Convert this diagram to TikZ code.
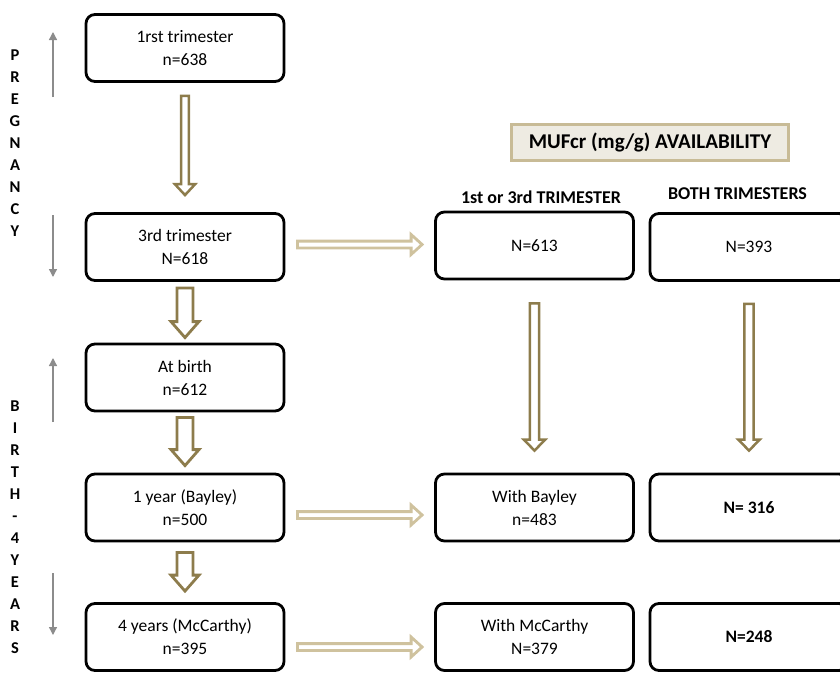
\documentclass[tikz,border=0pt]{standalone}
\usepackage{fontspec}
\setmainfont{Carlito}
\usepackage{tikz}
\usetikzlibrary{calc,arrows.meta}

\definecolor{arrowdark}{RGB}{141,124,76}
\definecolor{arrowlight}{RGB}{207,194,158}
\definecolor{availfill}{RGB}{238,235,226}
\definecolor{availdraw}{RGB}{200,187,150}
\definecolor{spangray}{RGB}{140,140,140}

\tikzset{
  box/.style={draw, line width=2.8pt, rounded corners=9pt, minimum width=198pt,
    minimum height=67pt, align=center, font=\fontsize{17.5}{23}\selectfont},
  availbox/.style={draw=availdraw, fill=availfill, line width=3pt, minimum width=277pt,
    minimum height=36pt, font=\bfseries\fontsize{21}{24}\selectfont},
  colhead/.style={font=\bfseries\fontsize{18}{20}\selectfont},
  phase/.style={align=center, font=\bfseries\fontsize{16.5}{22}\selectfont},
  span/.style={draw=spangray, line width=1.3pt, -{Triangle[length=8pt,width=8pt]}},
  % sizes of the hollow arrows
  thinarrow/.code={\def\arrshaft{3.8pt}\def\arrhead{10.2pt}\def\arrlen{11pt}\def\arrcol{arrowdark}\def\arrlw{2.5pt}},
  trunkarrow/.code={\def\arrshaft{8pt}\def\arrhead{14pt}\def\arrlen{16pt}\def\arrcol{arrowdark}\def\arrlw{2.8pt}},
  brancharrow/.code={\def\arrshaft{4.7pt}\def\arrhead{10.7pt}\def\arrlen{11pt}\def\arrcol{arrowdark}\def\arrlw{2.5pt}},
  sidearrow/.code={\def\arrshaft{3.4pt}\def\arrhead{10pt}\def\arrlen{11pt}\def\arrcol{arrowlight}\def\arrlw{2.8pt}}
}

% style, from, to, gap at start, gap at end
\newcommand{\hollowarrow}[5]{%
  \begin{scope}[#1]
    \coordinate (ha-s) at ($(#2)!#4!(#3)$);
    \coordinate (ha-e) at ($(#3)!#5!(#2)$);
    \coordinate (ha-b) at ($(ha-e)!\arrlen!(ha-s)$);
    \filldraw[draw=\arrcol, fill=white, line width=\arrlw]
      ($(ha-s)!\arrshaft!90:(ha-e)$) -- ($(ha-b)!\arrshaft!90:(ha-e)$)
      -- ($(ha-b)!\arrhead!90:(ha-e)$) -- (ha-e)
      -- ($(ha-b)!\arrhead!-90:(ha-e)$) -- ($(ha-b)!\arrshaft!-90:(ha-e)$)
      -- ($(ha-s)!\arrshaft!-90:(ha-e)$) -- cycle;
  \end{scope}}

\begin{document}
\begin{tikzpicture}[x=1pt,y=-1pt]
  \useasboundingbox (0,0) rectangle (840,672);

  % time line on the left
  \node[phase] (pregnancy) at (15,143.5) {P\\R\\E\\G\\N\\A\\N\\C\\Y};
  \node[phase] (childhood) at (15,527) {B\\I\\R\\T\\H\\-\\4\\Y\\E\\A\\R\\S};
  \coordinate (pregup) at (53,97);   \coordinate (pregtop) at (53,32);
  \coordinate (pregdown) at (53,215); \coordinate (pregend) at (53,277);
  \coordinate (childup) at (53,422);  \coordinate (childtop) at (53,358);
  \coordinate (childdown) at (53,573); \coordinate (childend) at (53,635);
  \draw[span] (pregup) -- (pregtop);
  \draw[span] (pregdown) -- (pregend);
  \draw[span] (childup) -- (childtop);
  \draw[span] (childdown) -- (childend);

  % cohort
  \node[box] (tri1) at (185,48) {1rst trimester\\n=638};
  \node[box] (tri3) at (185,247) {3rd trimester\\N=618};
  \node[box] (birth) at (185,377.5) {At birth\\n=612};
  \node[box] (bayley) at (185,507.5) {1 year (Bayley)\\n=500};
  \node[box] (mccarthy) at (185,637) {4 years (McCarthy)\\n=395};

  % availability
  \node[availbox] (avail) at (650,142) {MUFcr (mg/g) AVAILABILITY};
  \node[colhead] (anyhead) at (541,197) {1st or 3rd TRIMESTER};
  \node[colhead] (bothhead) at (737.5,194) {BOTH TRIMESTERS};
  \node[box] (anytri) at (534.5,245.5) {N=613};
  \node[box] (bothtri) at (749,247) {N=393};
  \node[box] (anybay) at (534.5,507.5) {With Bayley\\n=483};
  \node[box] (bothbay) at (749,507.5) {\textbf{N= 316}};
  \node[box] (anymcc) at (534.5,637) {With McCarthy\\N=379};
  \node[box] (bothmcc) at (749,637) {\textbf{N=248}};

  % arrows down the cohort
  \hollowarrow{thinarrow}{tri1.south}{tri3.north}{13pt}{17pt}
  \hollowarrow{trunkarrow}{tri3.south}{birth.north}{6pt}{5pt}
  \hollowarrow{trunkarrow}{birth.south}{bayley.north}{5pt}{7pt}
  \hollowarrow{trunkarrow}{bayley.south}{mccarthy.north}{10pt}{11pt}
  \hollowarrow{brancharrow}{anytri.south}{anybay.north}{23pt}{22pt}
  \hollowarrow{brancharrow}{bothtri.south}{bothbay.north}{22pt}{22pt}

  % arrows across
  \coordinate (across1) at ($(tri3.east)+(0,-2.5)$);
  \coordinate (across1end) at (across1 -| anytri.west);
  \coordinate (across2) at ($(bayley.east)+(0,7.5)$);
  \coordinate (across2end) at (across2 -| anybay.west);
  \coordinate (across3) at ($(mccarthy.east)+(0,10)$);
  \coordinate (across3end) at (across3 -| anymcc.west);
  \hollowarrow{sidearrow}{across1}{across1end}{12pt}{12pt}
  \hollowarrow{sidearrow}{across2}{across2end}{12pt}{12pt}
  \hollowarrow{sidearrow}{across3}{across3end}{12pt}{12pt}
\end{tikzpicture}
\end{document}
